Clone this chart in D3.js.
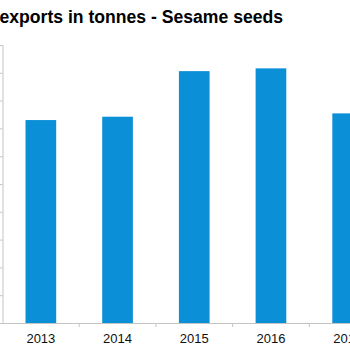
<!DOCTYPE html>
<html><head><meta charset="utf-8">
<script src="https://cdn.jsdelivr.net/npm/d3@7"></script>
<style>body{margin:0;background:#fff;overflow:hidden}svg{display:block}</style>
</head><body>
<svg id="c" width="350" height="350"></svg>
<script>
const title = "exports in tonnes - Sesame seeds";
const years = ["2013", "2014", "2015", "2016", "2017"];
const tonnes = [73000, 74200, 90600, 91600, 75400];
const yTicks = [0,10000,20000,30000,40000,50000,60000,70000,80000,90000,100000];

const svg = d3.select("#c");
const mLeft = 2.5, mTop = 45, mBottom = 323, step = 76.7;
const x = d3.scaleBand().domain(years).range([mLeft, mLeft + step*years.length]).paddingInner(0.6).paddingOuter(0.3);
const y = d3.scaleLinear().domain([0, 100000]).range([mBottom, mTop]);

svg.append("text").attr("x", -0.5).attr("y", 23.3)
  .attr("font-family", "Liberation Sans, Arial, sans-serif").attr("font-weight", "bold")
  .attr("font-size", 17.6).attr("fill", "#000").text(title);

svg.selectAll("rect.bar").data(years).join("rect").attr("class","bar")
  .attr("x", d => x(d)).attr("width", x.bandwidth())
  .attr("y", (d,i) => y(tonnes[i])).attr("height", (d,i) => mBottom - y(tonnes[i]))
  .attr("fill", "#0b8fd6");

const ya = svg.append("g").attr("transform", `translate(${mLeft},0)`)
  .call(d3.axisLeft(y).tickValues(yTicks).tickSize(5).tickFormat(""));
ya.selectAll("path,line").attr("stroke", "#c4c4c4");

const xa = svg.append("g").attr("transform", `translate(0,${mBottom})`)
  .call(d3.axisBottom(x).tickSize(0));
xa.select("path").attr("stroke", "#c4c4c4");
xa.selectAll("text").attr("font-family", "Liberation Sans, Arial, sans-serif")
  .attr("font-size", 13).attr("fill", "#111").attr("dy", "0").attr("y", 19.7);
svg.append("g").selectAll("line").data(years.slice(1)).join("line")
  .attr("x1", d => x(d) - x.step()*x.paddingOuter()).attr("x2", d => x(d) - x.step()*x.paddingOuter())
  .attr("y1", mBottom).attr("y2", mBottom + 4).attr("stroke", "#c4c4c4");
</script>
</body></html>
